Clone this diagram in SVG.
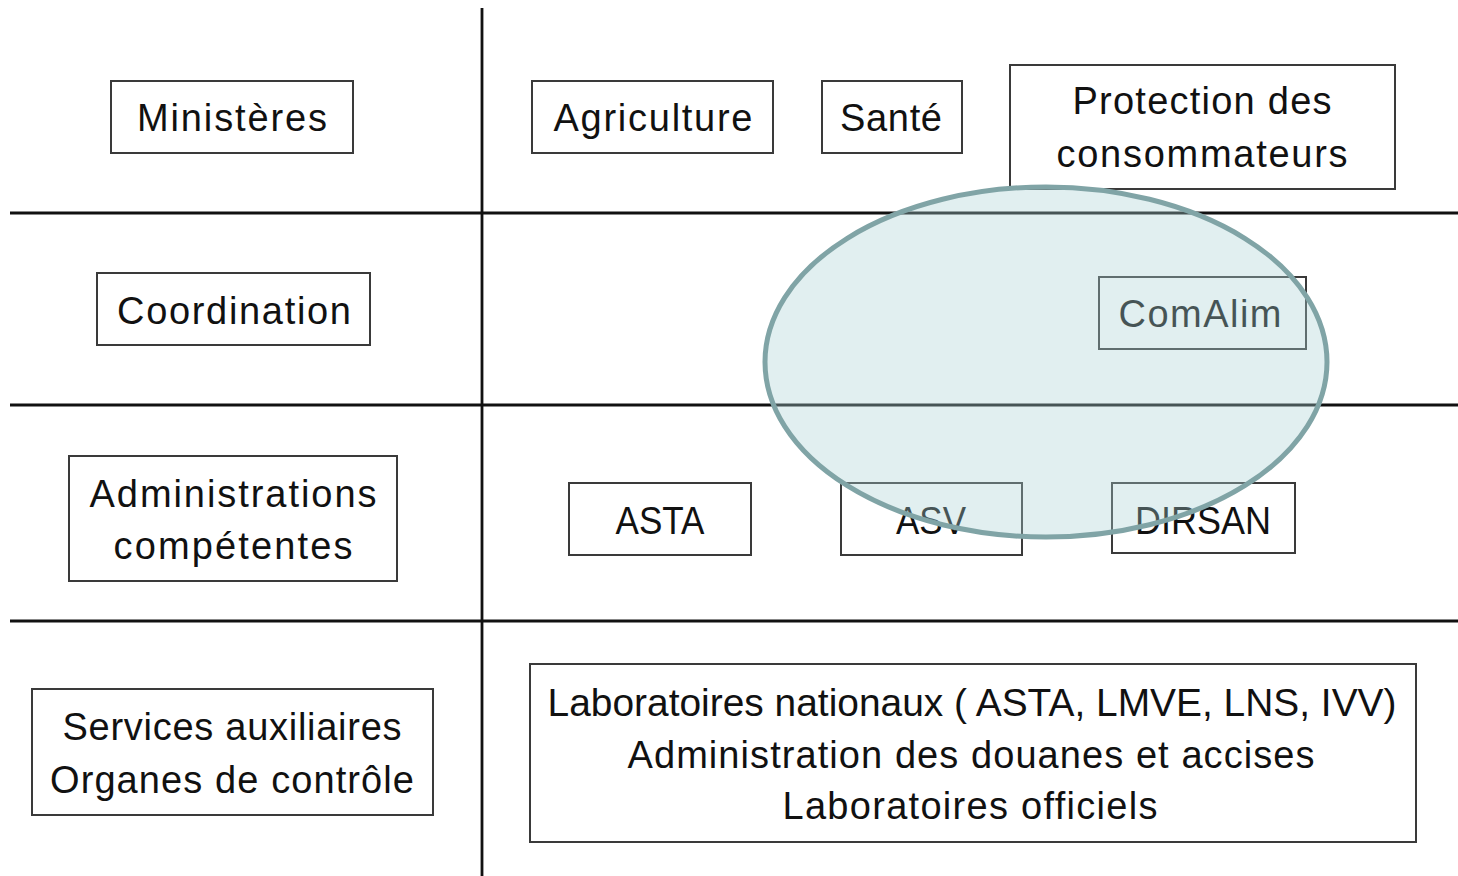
<svg xmlns="http://www.w3.org/2000/svg" width="1458" height="876" viewBox="0 0 1458 876">
<style>
  .grid { stroke: #111; stroke-width: 2.8; fill: none; }
  .box rect { fill: none; stroke: #3a3a3a; stroke-width: 2; }
  .box text { font-family: "Liberation Sans", Arial, sans-serif; font-size: 38px; fill: #111; text-anchor: middle; }
  .hl { fill: rgb(170,210,212); fill-opacity: 0.35; stroke: #80a4a6; stroke-width: 5; }
</style>
<rect x="0" y="0" width="1458" height="876" fill="#ffffff"/>
<g id="connectors">
  <line class="grid" x1="482" y1="8" x2="482" y2="876"/>
  <line class="grid" x1="10" y1="213" x2="1458" y2="213"/>
  <line class="grid" x1="10" y1="405" x2="1458" y2="405"/>
  <line class="grid" x1="10" y1="621" x2="1458" y2="621"/>
</g>
<g id="ministeres" class="box">
  <rect x="111" y="81" width="242" height="72"/>
  <text x="232" y="131" textLength="190">Ministères</text>
</g>
<g id="coordination" class="box">
  <rect x="97" y="273" width="273" height="72"/>
  <text x="234" y="324" textLength="234">Coordination</text>
</g>
<g id="administrations" class="box">
  <rect x="69" y="456" width="328" height="125"/>
  <text x="233" y="507" textLength="287">Administrations</text>
  <text x="233" y="559" textLength="239">compétentes</text>
</g>
<g id="services" class="box">
  <rect x="32" y="689" width="401" height="126"/>
  <text x="232" y="740" textLength="339">Services auxiliaires</text>
  <text x="232" y="793" textLength="364">Organes de contrôle</text>
</g>
<g id="agriculture" class="box">
  <rect x="532" y="81" width="241" height="72"/>
  <text x="653" y="131" textLength="199">Agriculture</text>
</g>
<g id="sante" class="box">
  <rect x="822" y="81" width="140" height="72"/>
  <text x="891" y="131" textLength="102">Santé</text>
</g>
<g id="protection" class="box">
  <rect x="1010" y="65" width="385" height="124"/>
  <text x="1202" y="114" textLength="259">Protection des</text>
  <text x="1202" y="167" textLength="291">consommateurs</text>
</g>
<g id="comalim" class="box">
  <rect x="1099" y="277" width="207" height="72"/>
  <text x="1200" y="327" textLength="163">ComAlim</text>
</g>
<g id="asta" class="box">
  <rect x="569" y="483" width="182" height="72"/>
  <text x="660" y="534" textLength="89" lengthAdjust="spacingAndGlyphs">ASTA</text>
</g>
<g id="asv" class="box">
  <rect x="841" y="483" width="181" height="72"/>
  <text x="931" y="534" textLength="70" lengthAdjust="spacingAndGlyphs">ASV</text>
</g>
<g id="dirsan" class="box">
  <rect x="1112" y="483" width="183" height="70"/>
  <text x="1203" y="534" textLength="136" lengthAdjust="spacingAndGlyphs">DIRSAN</text>
</g>
<g id="laboratoires" class="box">
  <rect x="530" y="664" width="886" height="178"/>
  <text x="972" y="716" textLength="849" lengthAdjust="spacingAndGlyphs">Laboratoires nationaux ( ASTA, LMVE, LNS, IVV)</text>
  <text x="971" y="768" textLength="687">Administration des douanes et accises</text>
  <text x="970" y="819" textLength="375">Laboratoires officiels</text>
</g>
<g id="highlight">
  <ellipse class="hl" cx="1046" cy="362" rx="281" ry="175"/>
</g>
</svg>
